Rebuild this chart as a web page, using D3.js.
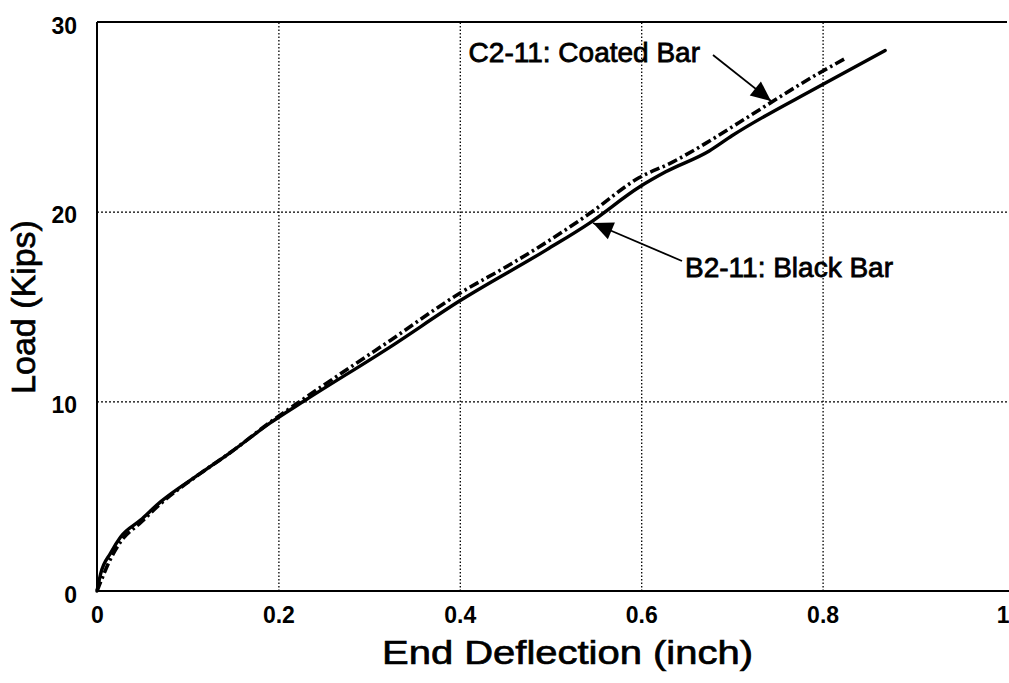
<!DOCTYPE html>
<html>
<head>
<meta charset="utf-8">
<script src="https://cdn.jsdelivr.net/npm/d3@7"></script>
<style>
  html, body { margin: 0; padding: 0; background: #fff; }
  svg { display: block; font-family: "Liberation Sans", Arial, Helvetica, sans-serif; }
</style>
</head>
<body>
<svg id="chart" width="1009" height="683"></svg>
<script>
// ---- Data ----
const xTicks = [0, 0.2, 0.4, 0.6, 0.8, 1];
const yTicks = [0, 10, 20, 30];

const deflectionBlack = [0, 0.004, 0.015, 0.026, 0.048, 0.070, 0.114, 0.147, 0.191, 0.23, 0.323, 0.40, 0.496, 0.543, 0.598, 0.627, 0.675, 0.70, 0.796, 0.869];
const loadBlack       = [0, 0.9,   2.0,   2.85,  3.74,  4.7,   6.2,   7.3,   8.86,  10.07, 12.86, 15.3, 18.0, 19.4, 21.3, 22.1, 23.2, 24.0, 26.6, 28.5];

const deflectionCoated = [0, 0.005, 0.015, 0.026, 0.048, 0.070, 0.114, 0.147, 0.191, 0.23, 0.323, 0.40, 0.455, 0.496, 0.543, 0.598, 0.634, 0.671, 0.708, 0.796, 0.826];
const loadCoated       = [0, 0.6,   1.7,   2.6,   3.6,   4.6,   6.2,   7.3,   8.9,   10.2, 13.2,  15.7, 17.2,  18.4,  19.9,  21.8,  22.6,  23.6,  24.7,  27.3,  28.1];

const xTitle = "End Deflection (inch)";
const yTitle = "Load (Kips)";
const labelCoated = "C2-11: Coated Bar";
const labelBlack = "B2-11: Black Bar";

// ---- Layout ----
const svg = d3.select("#chart");
const pLeft = 97, pRight = 1004, pTop = 22, pBottom = 591;

const x = d3.scaleLinear().domain([0, 1]).range([pLeft, pRight]);
const y = d3.scaleLinear().domain([0, 30]).range([pBottom, pTop]);

// gridlines (dotted)
const gx = svg.append("g").attr("transform", `translate(0,${pBottom})`)
  .call(d3.axisBottom(x).tickValues(xTicks.filter(v => v > 0 && v < 1)).tickSize(-(pBottom - pTop)).tickFormat(""));
gx.select(".domain").remove();
gx.selectAll("line").attr("stroke", "#000").attr("stroke-width", 1.3).attr("stroke-dasharray", "1.5,2");

const gy = svg.append("g").attr("transform", `translate(${pLeft},0)`)
  .call(d3.axisLeft(y).tickValues(yTicks.filter(v => v > 0 && v < 30)).tickSize(-(pRight + 6 - pLeft)).tickFormat(""));
gy.select(".domain").remove();
gy.selectAll("line").attr("stroke", "#000").attr("stroke-width", 1.3).attr("stroke-dasharray", "2,2");

// axis frame lines
svg.append("line").attr("x1", pLeft).attr("x2", 1009).attr("y1", pBottom).attr("y2", pBottom)
  .attr("stroke", "#000").attr("stroke-width", 2);
svg.append("line").attr("x1", pLeft).attr("x2", pLeft).attr("y1", pTop).attr("y2", pBottom)
  .attr("stroke", "#000").attr("stroke-width", 2);
svg.append("line").attr("x1", pLeft).attr("x2", 1007).attr("y1", pTop).attr("y2", pTop)
  .attr("stroke", "#000").attr("stroke-width", 2);

// tick labels
const ax = svg.append("g").attr("transform", `translate(0,${pBottom})`)
  .call(d3.axisBottom(x).tickValues(xTicks).tickSize(0).tickPadding(0).tickFormat(d3.format("~g")));
ax.select(".domain").remove();
ax.selectAll("text").attr("y", 32).attr("dy", 0).attr("font-size", 23).attr("font-weight", "bold")
  .attr("fill", "#000").attr("font-family", "Liberation Sans, Arial, sans-serif");
ax.selectAll("text").filter(d => d === 1).attr("text-anchor", "end").attr("x", 1009 - pRight);

const ay = svg.append("g").attr("transform", `translate(${pLeft},0)`)
  .call(d3.axisLeft(y).tickValues(yTicks).tickSize(0).tickPadding(0));
ay.select(".domain").remove();
ay.selectAll("text").attr("x", -20).attr("dy", "0.48em").attr("font-size", 23).attr("font-weight", "bold")
  .attr("fill", "#000").attr("font-family", "Liberation Sans, Arial, sans-serif");

// axis titles
svg.append("text").attr("x", 382).attr("y", 664)
  .attr("font-size", 34).attr("textLength", 371).attr("lengthAdjust", "spacingAndGlyphs")
  .attr("fill", "#000").attr("stroke", "#000").attr("stroke-width", 0.7)
  .text(xTitle);
svg.append("text").attr("transform", "translate(35,307) rotate(-90)")
  .attr("text-anchor", "middle").attr("font-size", 34)
  .attr("fill", "#000").attr("stroke", "#000").attr("stroke-width", 0.7)
  .text(yTitle);

// curves
const line = d3.line().x(d => x(d[0])).y(d => y(d[1])).curve(d3.curveMonotoneX);
const black = d3.zip(deflectionBlack, loadBlack);
const coated = d3.zip(deflectionCoated, loadCoated);

svg.append("path").datum(black).attr("d", line)
  .attr("fill", "none").attr("stroke", "#000").attr("stroke-width", 3.4).attr("stroke-linejoin", "round").attr("stroke-linecap", "round");
svg.append("path").datum(coated).attr("d", line)
  .attr("fill", "none").attr("stroke", "#000").attr("stroke-width", 3.6).attr("stroke-dasharray", "10,3.5,2.5,3.5");

// annotations with arrows
function arrow(x1, y1, x2, y2) {
  svg.append("line").attr("x1", x1).attr("y1", y1).attr("x2", x2).attr("y2", y2)
    .attr("stroke", "#000").attr("stroke-width", 1.8);
  const ang = Math.atan2(y2 - y1, x2 - x1);
  const L = 20, W = 9;
  const bx = x2 - L * Math.cos(ang), by = y2 - L * Math.sin(ang);
  const px = -Math.sin(ang) * W, py = Math.cos(ang) * W;
  svg.append("path")
    .attr("d", `M${x2},${y2}L${bx + px},${by + py}L${bx - px},${by - py}Z`)
    .attr("fill", "#000");
}

svg.append("text").attr("x", 700).attr("y", 62).attr("text-anchor", "end")
  .attr("font-size", 28).attr("fill", "#000").attr("stroke", "#000").attr("stroke-width", 0.8)
  .text(labelCoated);
arrow(713, 55, 771, 101);

svg.append("text").attr("x", 685).attr("y", 277)
  .attr("font-size", 28).attr("fill", "#000").attr("stroke", "#000").attr("stroke-width", 0.8)
  .text(labelBlack);
arrow(682, 261, 593, 223);
</script>
</body>
</html>
